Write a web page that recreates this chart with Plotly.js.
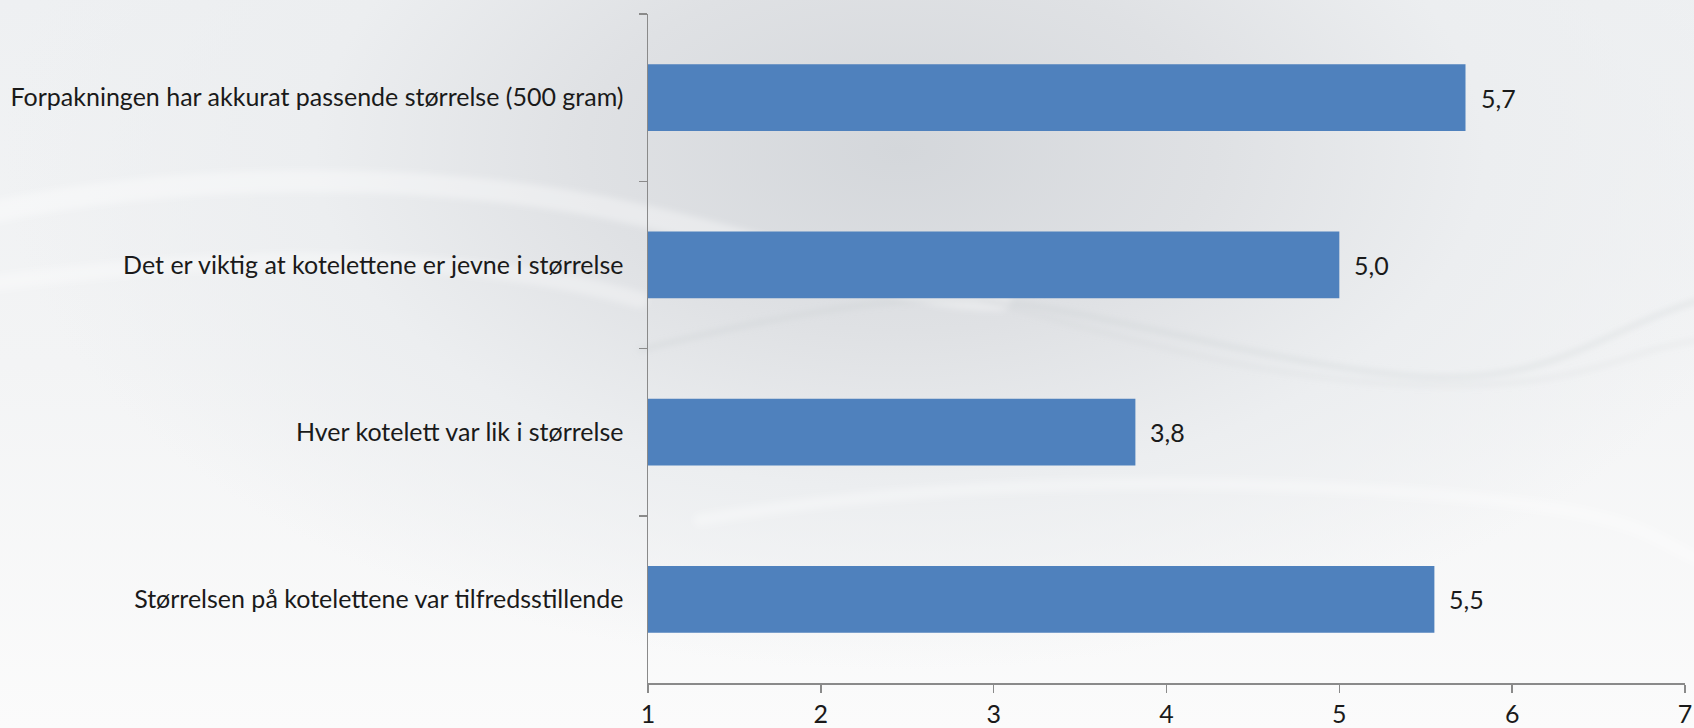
<!DOCTYPE html>
<html>
<head>
<meta charset="utf-8">
<script src="https://cdn.plot.ly/plotly-3.0.1.min.js"></script>
<style>
  html, body { margin: 0; padding: 0; }
  body {
    width: 1694px; height: 728px; overflow: hidden; position: relative;
    background:
      radial-gradient(ellipse 900px 520px at 900px 150px, #d4d7db 0%, #dfe1e4 35%, #eceef0 65%, rgba(250,250,250,0) 100%),
      linear-gradient(180deg, #eef0f2 0%, #f3f4f5 50%, #fbfbfb 100%);
  }
  #deco { position: absolute; left: 0; top: 0; }
  #chart { position: absolute; left: 0; top: 0; width: 1694px; height: 728px; }
</style>
</head>
<body>
<!-- soft background swooshes -->
<svg id="deco" width="1694" height="728">
  <defs>
    <filter id="soft"><feGaussianBlur stdDeviation="3"/></filter>
  </defs>
  <g fill="none" stroke-linecap="round" filter="url(#soft)">
    <path d="M -20 215 C 150 175, 420 165, 640 215 S 900 300, 1000 300" stroke="rgba(255,255,255,0.35)" stroke-width="22"/>
    <path d="M -20 285 C 200 255, 450 245, 640 300" stroke="rgba(255,255,255,0.3)" stroke-width="16"/>
    <path d="M 640 350 C 760 320, 880 295, 980 300 S 1250 360, 1400 375 S 1600 330, 1700 300" stroke="rgba(196,200,204,0.35)" stroke-width="4"/>
    <path d="M 980 300 C 1100 330, 1250 380, 1420 385 S 1620 350, 1700 340" stroke="rgba(196,200,204,0.28)" stroke-width="3"/>
    <path d="M 700 520 C 900 485, 1150 475, 1400 492 S 1650 540, 1700 560" stroke="rgba(255,255,255,0.3)" stroke-width="12"/>
  </g>
</svg>
<div id="chart"></div>
<script>
// Survey statements (top to bottom) and their mean scores on a 1–7 scale
const statements = [
  'Forpakningen har akkurat passende størrelse (500 gram)',
  'Det er viktig at kotelettene er jevne i størrelse',
  'Hver kotelett var lik i størrelse',
  'Størrelsen på kotelettene var tilfredsstillende'
];
const meanScores = [5.73, 5.0, 3.82, 5.55];
const scaleTicks = [1, 2, 3, 4, 5, 6, 7];

const labelFont = { family: 'Lato, "Liberation Sans", sans-serif', size: 25, color: '#1a1a1a' };
const axisGray = '#8a8a8a';

const trace = {
  type: 'bar',
  orientation: 'h',
  y: statements,
  x: meanScores,
  marker: { color: '#4f81bd', line: { width: 0 } },
  hoverinfo: 'skip'
};

// value labels to the right of each bar, using a decimal comma
const valueLabels = meanScores.map((v, i) => ({
  x: v,
  y: statements[i],
  xref: 'x', yref: 'y',
  text: v.toFixed(1).replace('.', ','),
  showarrow: false,
  xanchor: 'left',
  xshift: 13,
  font: labelFont
}));

const layout = {
  width: 1694,
  height: 728,
  margin: { l: 648, r: 9, t: 14, b: 45 },
  paper_bgcolor: 'rgba(0,0,0,0)',
  plot_bgcolor: 'rgba(0,0,0,0)',
  showlegend: false,
  bargap: 0.6,
  separators: ', ',
  font: labelFont,
  xaxis: {
    range: [1, 7],
    tickvals: scaleTicks,
    ticktext: scaleTicks.map(String),
    showgrid: false,
    zeroline: false,
    showline: true,
    linecolor: axisGray,
    linewidth: 1.5,
    ticks: 'outside',
    ticklen: 8,
    tickwidth: 1.5,
    tickcolor: axisGray,
    tickfont: labelFont,
    ticklabelstandoff: 0,
    fixedrange: true
  },
  yaxis: {
    type: 'category',
    autorange: 'reversed',
    tickson: 'boundaries',
    showgrid: false,
    zeroline: false,
    showline: true,
    linecolor: axisGray,
    linewidth: 1.5,
    ticks: 'outside',
    ticklen: 8,
    tickwidth: 1.5,
    tickcolor: axisGray,
    tickfont: labelFont,
    ticklabelstandoff: 18,
    fixedrange: true
  },
  annotations: valueLabels
};

Plotly.newPlot('chart', [trace], layout, { displayModeBar: false, staticPlot: true });
</script>
</body>
</html>
